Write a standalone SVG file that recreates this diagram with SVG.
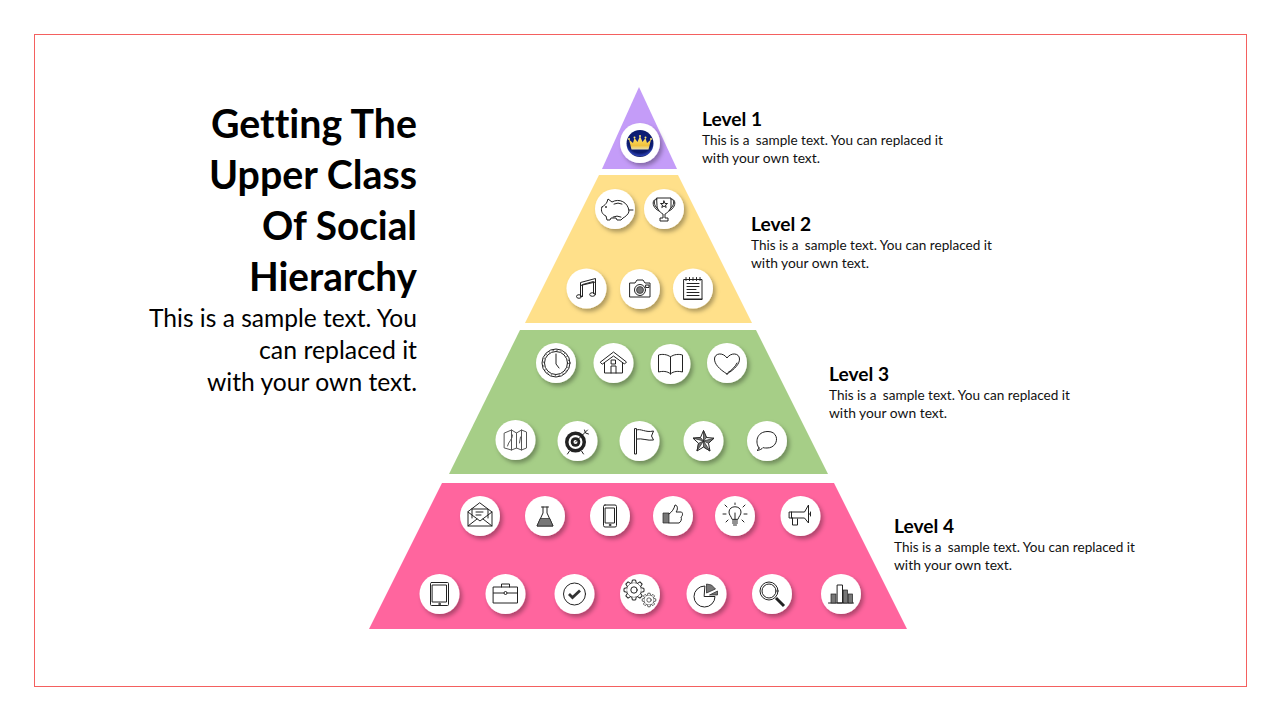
<svg xmlns="http://www.w3.org/2000/svg" width="1280" height="720" viewBox="0 0 1280 720">
<style>
text{font-family:"Lato","Open Sans","Liberation Sans",sans-serif;fill:#000;font-variant-ligatures:none}
.t{font-size:40px;font-weight:700;text-anchor:end}
.s{font-size:25px;text-anchor:end}
.h{font-size:19px;font-weight:700}
.d{font-size:14px;fill:#111}
.c{fill:#fff;filter:url(#sh)}
.i{fill:none;stroke:#222;stroke-width:1;stroke-linejoin:round;stroke-linecap:round}
.w{fill:#fff;stroke:#222;stroke-width:1;stroke-linejoin:round}
.k{fill:#222;stroke:none}
.g{fill:#777;stroke:#222;stroke-width:.7}
</style>
<defs>
<filter id="sh" x="-30%" y="-30%" width="170%" height="170%"><feDropShadow dx="2.500" dy="3" stdDeviation="2.200" flood-color="#000" flood-opacity=".32"/></filter>
<radialGradient id="navy" cx=".5" cy=".38" r=".62"><stop offset="0" stop-color="#10207f"/><stop offset=".75" stop-color="#0b1a6b"/><stop offset=".93" stop-color="#2a3fb0"/><stop offset="1" stop-color="#08124f"/></radialGradient>
<linearGradient id="gold" x1="0" y1="0" x2="0" y2="1"><stop offset="0" stop-color="#ffe873"/><stop offset=".7" stop-color="#f2c23c"/><stop offset="1" stop-color="#e9e1b0"/></linearGradient>
<circle id="disc" class="c" r="20"/>
<g id="gear">
<circle class="w" r="7.500"/>
<path id="tooth" class="w" d="M-2.200,-7.200 L-1.600,-10 H1.600 L2.200,-7.200"/>
<use href="#tooth" transform="rotate(45)"/><use href="#tooth" transform="rotate(90)"/><use href="#tooth" transform="rotate(135)"/><use href="#tooth" transform="rotate(180)"/><use href="#tooth" transform="rotate(225)"/><use href="#tooth" transform="rotate(270)"/><use href="#tooth" transform="rotate(315)"/>
<circle class="i" r="3.200"/>
</g>
</defs>
<rect x="34.500" y="34.500" width="1212" height="652" fill="#fff" stroke="#f4605f" stroke-width="1"/>

<g id="heading">
<text class="t" x="417" y="138" textLength="206" lengthAdjust="spacingAndGlyphs">Getting The</text>
<text class="t" x="417" y="189" textLength="208" lengthAdjust="spacingAndGlyphs">Upper Class</text>
<text class="t" x="417" y="240" textLength="155" lengthAdjust="spacingAndGlyphs">Of Social</text>
<text class="t" x="417" y="291" textLength="168" lengthAdjust="spacingAndGlyphs">Hierarchy</text>
<text class="s" x="417" y="327" textLength="268" lengthAdjust="spacingAndGlyphs">This is a sample text. You</text>
<text class="s" x="417" y="359" textLength="158" lengthAdjust="spacingAndGlyphs">can replaced it</text>
<text class="s" x="417" y="391" textLength="210" lengthAdjust="spacingAndGlyphs">with your own text.</text>
</g>

<g id="tier-1"><polygon points="639,87 677,169 602,169" fill="#c49cf8"/></g>
<g id="tier-2"><polygon points="599,175 678,175 752,323 525,323" fill="#ffe08a"/></g>
<g id="tier-3"><polygon points="520,330 756,330 828,474 449,474" fill="#a6ce87"/></g>
<g id="tier-4"><polygon points="442,483 834,483 907,629 369,629" fill="#ff659e"/></g>

<g id="label-1">
<text class="h" x="702" y="126" textLength="60" lengthAdjust="spacingAndGlyphs">Level 1</text>
<text class="d" x="702" y="145" textLength="241" lengthAdjust="spacingAndGlyphs">This is a <tspan dx="3">sample text. You can replaced it</tspan></text>
<text class="d" x="702" y="163" textLength="118" lengthAdjust="spacingAndGlyphs">with your own text.</text>
</g>
<g id="label-2">
<text class="h" x="751" y="231" textLength="60" lengthAdjust="spacingAndGlyphs">Level 2</text>
<text class="d" x="751" y="250" textLength="241" lengthAdjust="spacingAndGlyphs">This is a <tspan dx="3">sample text. You can replaced it</tspan></text>
<text class="d" x="751" y="268" textLength="118" lengthAdjust="spacingAndGlyphs">with your own text.</text>
</g>
<g id="label-3">
<text class="h" x="829" y="381" textLength="60" lengthAdjust="spacingAndGlyphs">Level 3</text>
<text class="d" x="829" y="400" textLength="241" lengthAdjust="spacingAndGlyphs">This is a <tspan dx="3">sample text. You can replaced it</tspan></text>
<text class="d" x="829" y="418" textLength="118" lengthAdjust="spacingAndGlyphs">with your own text.</text>
</g>
<g id="label-4">
<text class="h" x="894" y="533" textLength="60" lengthAdjust="spacingAndGlyphs">Level 4</text>
<text class="d" x="894" y="552" textLength="241" lengthAdjust="spacingAndGlyphs">This is a <tspan dx="3">sample text. You can replaced it</tspan></text>
<text class="d" x="894" y="570" textLength="118" lengthAdjust="spacingAndGlyphs">with your own text.</text>
</g>

<g id="connectors"/>

<g id="icon-crown" transform="translate(640,143)"><use href="#disc"/><circle r="13.500" cy=".5" fill="url(#navy)"/><path d="M-11,-3.500 L-7,0 L-5.500,-5 L-2.500,-1 L0,-7 L2.500,-1 L5.500,-5 L7,0 L11,-3.500 L8.500,6.500 L-8.500,6.500Z" fill="url(#gold)"/><circle cx="-11" cy="-4" r="1" fill="#ffe873"/><circle cx="-5.500" cy="-5.500" r="1" fill="#ffe873"/><circle cy="-7" r="1" fill="#ffe873"/><circle cx="5.500" cy="-5.500" r="1" fill="#ffe873"/><circle cx="11" cy="-4" r="1" fill="#ffe873"/></g>

<g id="icon-piggy" transform="translate(615,209)"><use href="#disc"/><path class="i" d="M-13,-2 C-10,-4 -9,-5 -8,-7 L-7,-10 L-3,-7 C4,-11 13,-7 14,2 C14,5 10,8 8,9 L6,11 L2,11 L1,9 L-4,9 L-5,11 L-8,11 L-9,7 C-12,6 -15,2 -13,-2Z M14,1 L18,1 M-1,-5 Q3,-7 7,-5 M-2,8 Q2,6 6,8"/><circle class="k" cx="-9" cy="-2" r=".9"/></g>
<g id="icon-trophy" transform="translate(664,209)"><use href="#disc"/><path class="i" d="M-7,-11 H7 V-3 C7,1 3,4 1,5 V9 H4 V12 H-4 V9 H-1 V5 C-3,4 -7,1 -7,-3Z M-7,-10 C-13,-10 -12,-1 -5,2 M7,-10 C13,-10 12,-1 5,2 M-9,-9 C-11,-7 -9,-2 -6,0 M9,-9 C11,-7 9,-2 6,0 M0,-8 L1,-5.500 L3.500,-5.500 L1.500,-4 L2.200,-1.500 L0,-3 L-2.200,-1.500 L-1.500,-4 L-3.500,-5.500 L-1,-5.500Z"/></g>
<g id="icon-music" transform="translate(586.500,288.500)"><use href="#disc"/><path class="i" d="M-6,8 V-6 L9,-10 V5 M-4,8 V-4 L7,-7 V5 M-6,-3 L9,-6.500"/><ellipse class="i" cx="-7.500" cy="8" rx="2.500" ry="1.800"/><ellipse class="i" cx="6" cy="6" rx="2.800" ry="1.800"/></g>
<g id="icon-camera" transform="translate(640,289)"><use href="#disc"/><path class="i" d="M-10,-6 H-5 L-3,-9 H3 L5,-6 H10 V8 H-10Z"/><circle class="i" cy="1" r="5.500"/><circle class="g" cy="1" r="3.500"/><rect class="i" x="6" y="-4" width="3" height="2.500"/></g>
<g id="icon-notebook" transform="translate(693,288.500)"><use href="#disc"/><path class="i" d="M-9,-9 H9 V11 H-9Z M-6,-5 H6 M-6,-2 H6 M-6,1 H3 M-6,4 H6 M-6,7 H6"/><path class="i" stroke-width="2" d="M-9,10.500 H9"/><path class="i" stroke-width="1.500" d="M-7,-11 V-8 M-3.500,-11 V-8 M0,-11 V-8 M3.500,-11 V-8 M7,-11 V-8"/></g>

<g id="icon-clock" transform="translate(556,363)"><use href="#disc"/><circle class="i" r="14" stroke-width="1.600"/><circle class="i" r="11.500"/><circle r="12.700" fill="none" stroke="#222" stroke-width="1" stroke-dasharray="1 3"/><path class="i" d="M0,-9 V1 L3,5"/></g>
<g id="icon-house" transform="translate(613.500,363)"><use href="#disc"/><path class="i" d="M-13,-1 L0,-11 L13,-1 L11,1 L0,-7 L-11,1Z M-9,0 V10 H9 V0 M-2.500,10 V3 H2.500 V10 M-2,-3 H2 V1 H-2Z"/></g>
<g id="icon-book" transform="translate(670.500,364)"><use href="#disc"/><path class="i" d="M0,-7 C-3,-10 -9,-10 -12,-9 V8 C-8,7 -3,7 0,10 C3,7 8,7 12,8 V-9 C9,-10 3,-10 0,-7Z M0,-7 V10"/></g>
<g id="icon-heart" transform="translate(727,363)"><use href="#disc"/><path class="i" d="M0,11 C-8,6 -12.500,1 -12.500,-4 C-12.500,-10 -4,-11 0,-5 C4,-11 12.500,-10 12.500,-4 C12.500,1 8,6 0,11Z" stroke-width="1.200"/><path class="i" d="M10,0 C8,4 5,7 1,9.500" stroke="#777" stroke-width="1.500"/></g>
<g id="icon-map" transform="translate(515.500,440)"><use href="#disc"/><path class="i" style="stroke:#555" d="M-11,-7 L-4,-10 L1,-7 L6,-10 L11,-8 V8 L6,10 L1,8 L-4,10 L-11,8Z M-4,-10 V10 M1,-7 V8 M6,-10 V10 M-8,6 C-7,1 -3,0 -3,-5 M4,3 L5,-3"/></g>
<g id="icon-target" transform="translate(577.500,441)"><use href="#disc"/><circle class="k" cx="-2" cy="1" r="10.500"/><circle fill="#fff" cx="-2" cy="1" r="7"/><circle class="k" cx="-2" cy="1" r="4.800"/><circle fill="#fff" cx="-2" cy="1" r="2"/><path class="i" d="M-2,1 L10,-11 M7,-11 L8,-8 L11,-7 M-8,10 L-10,13 M4,10 L6,13" stroke-width="1.500"/></g>
<g id="icon-flag" transform="translate(639.500,441)"><use href="#disc"/><path class="i" d="M-5,-12 V13 H-3 V-12Z M-3,-11 C1,-13 6,-8 14,-10 L12,-5 L14,-1 C8,0 3,-3 -3,-2"/></g>
<g id="icon-star" transform="translate(703.500,441)"><use href="#disc"/><path class="w" d="M0,-10.500 L3,-3.500 L10.500,-2.800 L5,2.300 L6.500,10 L0,6 L-6.500,10 L-5,2.300 L-10.500,-2.800 L-3,-3.500Z"/><path class="g" d="M0,-10.500 L3,-3.500 L0,0Z M10.500,-2.800 L5,2.300 L0,0Z M6.500,10 L0,6 L0,0Z M-6.500,10 L-5,2.300 L0,0Z M-10.500,-2.800 L-3,-3.500 L0,0Z"/></g>
<g id="icon-bubble" transform="translate(767,441)"><use href="#disc"/><path class="i" d="M-8,7 C-12,2 -11,-9.500 1,-9.500 C13,-9.500 12,7 0,7 C-2,7 -3,7 -4,6.500 C-5,8 -7,9 -10,9.500 C-9,9 -8.500,8 -8,7Z" stroke-width="1.200"/></g>

<g id="icon-envelope" transform="translate(480,516)"><use href="#disc"/><path class="i" d="M-12,-4 V10 H12 V-4 L0,-13Z M-12,-4 L0,5 L12,-4 M-12,10 L-3,3 M12,10 L3,3"/><path class="i" d="M-8,-7 H8 V2 M-8,-7 V2 M-4,-4 H3 M-4,-1 H1"/></g>
<g id="icon-flask" transform="translate(545,516)"><use href="#disc"/><path class="i" d="M-3.500,-9 H3.500 M-2,-9 V-3 L-8,10 H8 L2,-3 V-9"/><path class="g" d="M-4.800,2.500 H4.800 L8,10 H-8Z"/></g>
<g id="icon-phone" transform="translate(610,516)"><use href="#disc"/><rect class="i" x="-6.500" y="-11" width="13" height="22" rx="1.500"/><rect class="i" x="-4.500" y="-8" width="9" height="15"/><circle class="i" cy="9" r=".8"/></g>
<g id="icon-thumb" transform="translate(673,516)"><use href="#disc"/><path class="g" d="M-10,-3 H-4 V7 H-10Z"/><path class="i" d="M-4,-2 C-1,-4 1,-7 2,-11 C5,-11 5,-6 3,-4 H8 C10,-4 10,0 8,1 C9,3 8,6 6,7 H-4"/></g>
<g id="icon-bulb" transform="translate(735,516)"><use href="#disc"/><path class="i" d="M-3,3 C-4,0 -6,-1 -6,-4 C-6,-11 6,-11 6,-4 C6,-1 4,0 3,3Z M0,3 V-3"/><path class="i" stroke-width="1.500" d="M-2.500,5 H2.500 M-2.500,7 H2.500 M-1.500,9 H1.500"/><path class="i" d="M0,-11.500 V-13 M-8,-9 L-10,-11 M8,-9 L10,-11 M-9,-2 H-12 M9,-2 H12 M-7,4 L-9,6 M7,4 L9,6"/></g>
<g id="icon-megaphone" transform="translate(800.500,516)"><use href="#disc"/><path class="i" d="M-11,-4 L4,-4 L8,-11 V7 L4,2 L-11,2Z M-8,2 L-8,9 H-3 V3 M-9,-4 V2 M8,-2 H10 M10,-4 V0"/></g>

<g id="icon-tablet" transform="translate(439.500,594)"><use href="#disc"/><rect class="i" x="-9" y="-11.500" width="18" height="23" rx="1"/><rect class="i" x="-7" y="-9" width="14" height="17"/><circle class="i" cy="10" r=".8"/></g>
<g id="icon-briefcase" transform="translate(505.500,594)"><use href="#disc"/><path class="i" d="M-12,-7 H12 V9 H-12Z M-12,-1 H12 M-4,-7 V-10 H4 V-7"/><circle fill="#fff" stroke="#222" cy="-1" r="1.500"/></g>
<g id="icon-check" transform="translate(574.500,594)"><use href="#disc"/><circle class="i" r="11" stroke-width="1"/><path d="M-5.500,0 L-2,3.500 L5.500,-3.500" fill="none" stroke="#333" stroke-width="2.800"/></g>
<g id="icon-gears" transform="translate(640,594)"><use href="#disc"/><use href="#gear" transform="translate(-6,-4)"/><use href="#gear" transform="translate(9,6) scale(.68)"/></g>
<g id="icon-pie" transform="translate(706.500,594)"><use href="#disc"/><path class="i" d="M-2,-8 A10.500,10.500 0 1 0 8.500,2.500 H-2Z" stroke-width="1.100"/><path class="g" d="M0,-10 L5,-9 L9,-5 L0,-1Z M3,1 L11,-3 V1Z"/></g>
<g id="icon-magnifier" transform="translate(772,594)"><use href="#disc"/><circle class="i" cx="-3" cy="-3" r="9" stroke-width="1.200"/><circle class="i" cx="-3" cy="-3" r="7"/><path d="M4,4 L12,12" fill="none" stroke="#222" stroke-width="3"/></g>
<g id="icon-bars" transform="translate(841,594)"><use href="#disc"/><path class="i" d="M-12.500,9 H12.500"/><rect class="g" x="-10" y="0" width="5" height="9"/><rect class="i" x="-3.500" y="-9" width="5" height="18"/><rect class="g" x="2.500" y="-4" width="4" height="13"/><rect class="g" x="7.500" y="0" width="4" height="9"/></g>
</svg>
